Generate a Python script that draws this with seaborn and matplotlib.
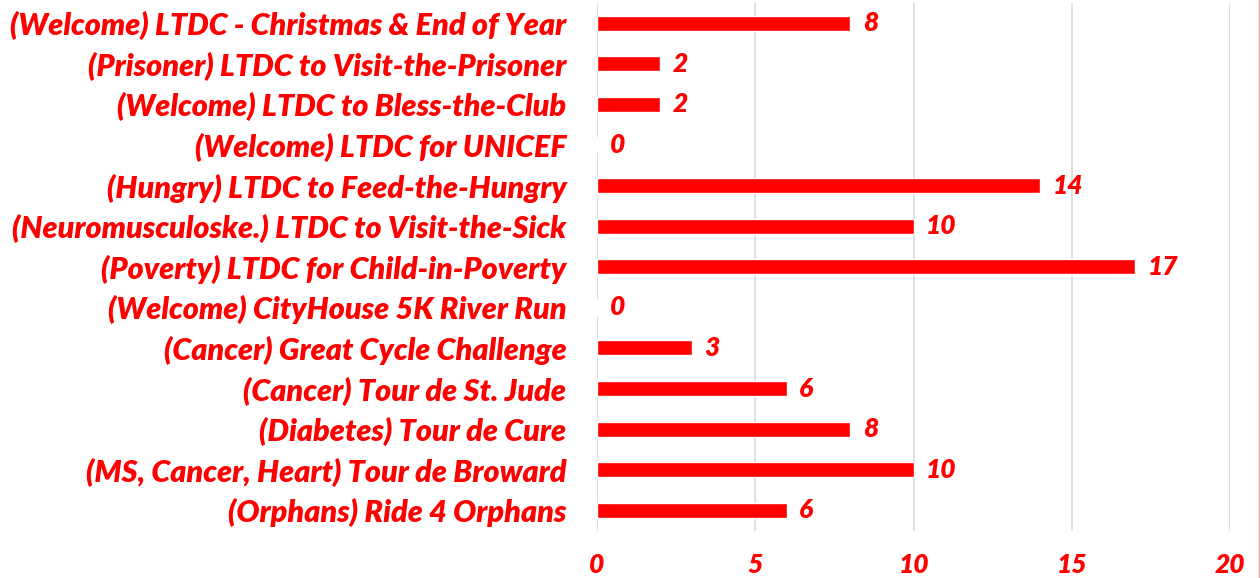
import matplotlib
matplotlib.use("Agg")
import matplotlib.pyplot as plt
import seaborn as sns
import pandas as pd
from matplotlib.lines import Line2D

events = [
    "(Welcome) LTDC - Christmas & End of Year",
    "(Prisoner) LTDC to Visit-the-Prisoner",
    "(Welcome) LTDC to Bless-the-Club",
    "(Welcome) LTDC for UNICEF",
    "(Hungry) LTDC to Feed-the-Hungry",
    "(Neuromusculoske.) LTDC to Visit-the-Sick",
    "(Poverty) LTDC for Child-in-Poverty",
    "(Welcome) CityHouse 5K River Run",
    "(Cancer) Great Cycle Challenge",
    "(Cancer) Tour de St. Jude",
    "(Diabetes) Tour de Cure",
    "(MS, Cancer, Heart) Tour de Broward",
    "(Orphans) Ride 4 Orphans",
]
counts = [8, 2, 2, 0, 14, 10, 17, 0, 3, 6, 8, 10, 6]
x_ticks = [0, 5, 10, 15, 20]

RED = "#ff0000"
FONT = "Lato"
FS_LABEL = 22
FS_NUM = 19
WEIGHT = "heavy"

sns.set_theme(style="white")
plt.rcParams["font.family"] = [FONT, "DejaVu Sans"]

df = pd.DataFrame({"event": events, "count": counts})

fig = plt.figure(figsize=(12.6, 5.78), dpi=100)
ax = fig.add_axes([0.4738, 0.082, 0.9762 - 0.4738, 0.913])

sns.barplot(data=df, y="event", x="count", orient="h", color=RED,
            saturation=1, width=0.37, ax=ax, zorder=3)

ax.set_xlim(0, 20)
ax.set_ylim(len(events) - 0.5, -0.5)
ax.set_xticks(x_ticks)
ax.set_xticklabels([str(t) for t in x_ticks])
ax.set_xlabel("")
ax.set_ylabel("")

ax.grid(axis="x", color="#d9d9d9", linewidth=1.2, zorder=0)
ax.grid(axis="y", visible=False)
for s in ax.spines.values():
    s.set_visible(False)

ax.tick_params(axis="x", length=0, pad=16, labelsize=FS_NUM, labelcolor=RED)
ax.tick_params(axis="y", length=0, pad=22, labelsize=FS_LABEL, labelcolor=RED)
for lab in ax.get_xticklabels() + ax.get_yticklabels():
    lab.set_fontweight(WEIGHT)
    lab.set_fontstyle("italic")

for i, v in enumerate(counts):
    ax.annotate(str(v), xy=(v, i), xytext=(9, 0), textcoords="offset points",
                ha="left", va="center", color=RED, fontsize=FS_NUM,
                fontweight=WEIGHT, fontstyle="italic")

# thin frame line on the right edge of the chart area
fig.add_artist(Line2D([0.9992, 0.9992], [0, 1], transform=fig.transFigure,
                      color="#f4a0a0", linewidth=1))

fig.savefig("out.png", dpi=100, facecolor="white")
